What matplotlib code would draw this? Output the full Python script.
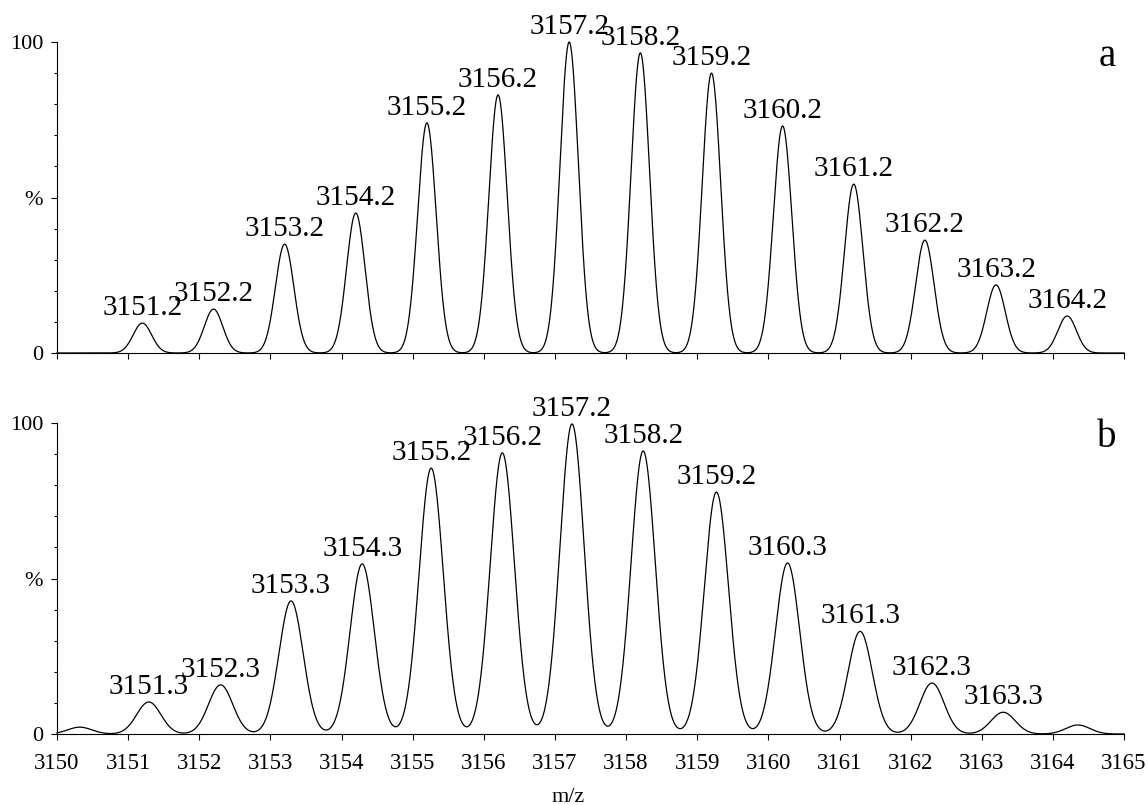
import numpy as np
import matplotlib
matplotlib.use("Agg")
import matplotlib.pyplot as plt
from matplotlib.ticker import MultipleLocator, FixedLocator, FixedFormatter

plt.rcParams["font.family"] = ["Liberation Serif", "DejaVu Serif"]

# panel a: peak centres (m/z) and relative intensities (%)
mz_a = [3151.2, 3152.2, 3153.2, 3154.2, 3155.2, 3156.2, 3157.2,
        3158.2, 3159.2, 3160.2, 3161.2, 3162.2, 3163.2, 3164.2]
int_a = [9.6, 14.1, 35.0, 45.0, 74.0, 83.0, 100.0,
         96.5, 90.0, 73.0, 54.3, 36.3, 21.9, 11.9]
labels_a = ["3151.2", "3152.2", "3153.2", "3154.2", "3155.2", "3156.2", "3157.2",
            "3158.2", "3159.2", "3160.2", "3161.2", "3162.2", "3163.2", "3164.2"]

# panel b: peak centres (m/z) and relative intensities (%)
mz_b = [3150.32, 3151.29, 3152.3, 3153.29, 3154.29, 3155.26, 3156.26, 3157.24,
        3158.24, 3159.27, 3160.27, 3161.29, 3162.3, 3163.3, 3164.35]
int_b = [2.2, 10.3, 15.8, 42.8, 54.7, 85.5, 90.4, 99.7,
         91.0, 77.8, 55.0, 33.0, 16.4, 7.0, 2.9]
labels_b = ["", "3151.3", "3152.3", "3153.3", "3154.3", "3155.2", "3156.2", "3157.2",
            "3158.2", "3159.2", "3160.3", "3161.3", "3162.3", "3163.3", ""]

x_min, x_max = 3150, 3165


def profile(x, centres, heights, sigma):
    y = np.zeros_like(x)
    for c, h in zip(centres, heights):
        y += h * np.exp(-0.5 * ((x - c) / sigma) ** 2)
    return y


def style_axis(ax, show_xlabels):
    ax.set_xlim(x_min, x_max)
    ax.set_ylim(0, 100)
    for side in ("top", "right"):
        ax.spines[side].set_visible(False)
    for side in ("left", "bottom"):
        ax.spines[side].set_linewidth(0.8)
    ax.xaxis.set_major_locator(MultipleLocator(1))
    ax.yaxis.set_major_locator(FixedLocator([0, 50, 100]))
    ax.yaxis.set_major_formatter(FixedFormatter(["0", "%", "100"]))
    ax.yaxis.set_minor_locator(MultipleLocator(10))
    ax.tick_params(axis="y", which="major", length=4, width=0.8, labelsize=16, pad=6)
    ax.tick_params(axis="y", which="minor", length=2.2, width=0.8)
    ax.tick_params(axis="x", which="major", length=4.3, width=0.8, labelsize=16.5,
                   pad=9.5, labelbottom=show_xlabels)


fig = plt.figure(figsize=(11.47, 8.05), dpi=100)
ax_a = fig.add_axes([0.0497, 0.5615, 0.9303, 0.3863])
ax_b = fig.add_axes([0.0497, 0.0882, 0.9303, 0.3863])

xs = np.linspace(x_min, x_max, 4000)

for ax, mz, inten, labs, sigma, tag, show in (
    (ax_a, mz_a, int_a, labels_a, 0.13, "a", False),
    (ax_b, mz_b, int_b, labels_b, 0.17, "b", True),
):
    ax.plot(xs, profile(xs, mz, inten, sigma), color="black", lw=0.9, clip_on=False)
    for c, h, lab in zip(mz, inten, labs):
        if lab:
            ax.annotate(lab, (c, h), xytext=(0, 6), textcoords="offset points",
                        ha="center", va="baseline", fontsize=21)
    ax.text(0.984, 0.955, tag, transform=ax.transAxes, ha="center", va="center",
            fontsize=28)
    style_axis(ax, show)

fig.text(568 / 1147, 3 / 805, "m/z", ha="center", va="baseline", fontsize=16)

fig.savefig("out.png", dpi=100)
